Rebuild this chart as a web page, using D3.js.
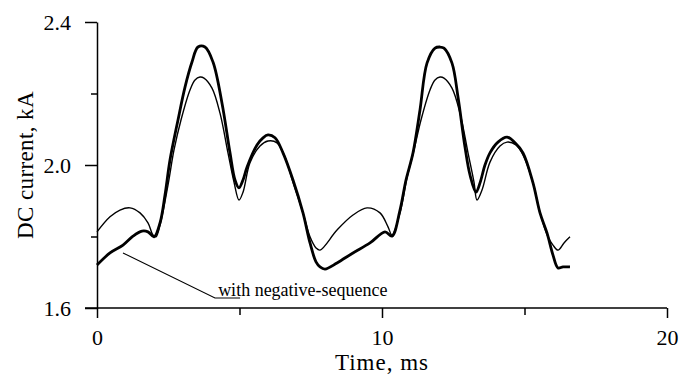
<!DOCTYPE html>
<html>
<head>
<meta charset="utf-8">
<script src="https://cdn.jsdelivr.net/npm/d3@7"></script>
<style>
  html, body { margin: 0; padding: 0; background: #fff; }
  svg { display: block; }
  svg text { font-family: "Liberation Serif", Tinos, "Times New Roman", Times, "DejaVu Serif", serif !important; fill: #000; }
</style>
</head>
<body>
<svg id="chart" width="679" height="374"></svg>
<script>
// ---- data ----
const xMajorTicks = [0, 10, 20];
const xMinorTicks = [5, 15];
const yMajorTicks = [1.6, 2.0, 2.4];
const yMinorTicks = [1.8, 2.2];
const xLabel = "Time, ms";
const yLabel = "DC current, kA";
const annotationText = "with negative-sequence";

// thick curve: with negative-sequence
const tWith = [0, 0.456, 0.912, 1.263, 1.579, 1.789, 2.0, 2.211, 2.386, 2.561, 2.842, 3.088, 3.333, 3.544, 3.789, 4.07, 4.386, 4.667, 4.842, 4.982, 5.123, 5.263, 5.614, 5.825, 6.0, 6.246, 6.526, 6.877, 7.228, 7.474, 7.684, 7.825, 8.0, 8.421, 8.982, 9.579, 10.105, 10.351, 10.632, 10.842, 11.088, 11.333, 11.579, 11.86, 12.035, 12.175, 12.456, 12.667, 12.912, 13.088, 13.298, 13.439, 13.614, 13.789, 14.07, 14.386, 14.667, 14.947, 15.298, 15.544, 15.789, 16.0, 16.175, 16.351, 16.596];
const iWith = [1.720, 1.754, 1.776, 1.801, 1.815, 1.813, 1.799, 1.838, 1.916, 2.014, 2.126, 2.218, 2.288, 2.330, 2.330, 2.288, 2.173, 2.034, 1.958, 1.936, 1.958, 1.994, 2.056, 2.076, 2.084, 2.076, 2.034, 1.958, 1.866, 1.782, 1.729, 1.715, 1.709, 1.726, 1.754, 1.782, 1.813, 1.801, 1.874, 1.958, 2.034, 2.154, 2.285, 2.327, 2.330, 2.327, 2.285, 2.190, 2.050, 1.972, 1.924, 1.950, 2.000, 2.034, 2.064, 2.078, 2.062, 2.034, 1.950, 1.866, 1.810, 1.748, 1.712, 1.715, 1.715];

// thin curve: without negative-sequence
const tWithout = [0, 0.456, 0.807, 1.158, 1.509, 1.789, 1.965, 2.07, 2.211, 2.491, 2.702, 2.947, 3.263, 3.439, 3.614, 3.754, 4.035, 4.316, 4.596, 4.807, 4.982, 5.123, 5.368, 5.719, 6.0, 6.316, 6.596, 6.877, 7.228, 7.474, 7.684, 7.825, 8.421, 8.982, 9.474, 9.93, 10.211, 10.351, 10.632, 10.877, 11.123, 11.368, 11.684, 11.86, 12.035, 12.175, 12.456, 12.737, 13.018, 13.228, 13.333, 13.509, 13.789, 14.14, 14.386, 14.702, 14.947, 15.298, 15.544, 15.825, 16.0, 16.175, 16.386, 16.596];
const iWithout = [1.813, 1.855, 1.874, 1.880, 1.866, 1.838, 1.804, 1.799, 1.832, 1.944, 2.042, 2.126, 2.210, 2.238, 2.246, 2.243, 2.215, 2.145, 2.034, 1.952, 1.902, 1.924, 2.006, 2.053, 2.067, 2.062, 2.022, 1.952, 1.866, 1.799, 1.768, 1.762, 1.818, 1.860, 1.880, 1.866, 1.827, 1.804, 1.866, 1.964, 2.042, 2.126, 2.210, 2.238, 2.246, 2.243, 2.215, 2.145, 2.034, 1.952, 1.902, 1.930, 2.008, 2.053, 2.064, 2.056, 2.028, 1.950, 1.866, 1.799, 1.776, 1.762, 1.782, 1.799];

// annotation leader (data coordinates)
const leaderT = [0.912, 4.14, 5.02];
const leaderI = [1.754, 1.628, 1.628];
const labelPos = [4.25, 1.634];

// ---- chart ----
const SERIF = '"Liberation Serif", Tinos, "Times New Roman", Times, "DejaVu Serif", serif';
const svg = d3.select("#chart");
const x = d3.scaleLinear().domain([0, 20]).range([97, 667]);
const y = d3.scaleLinear().domain([1.6, 2.4]).range([308, 22]);

const fmtY = d3.format(".1f");

function styleAxis(g) {
  g.attr("font-family", SERIF).attr("font-size", 22);
  g.selectAll("path.domain").attr("stroke", "#000").attr("stroke-width", 1.5);
  g.selectAll(".tick line").attr("stroke", "#000").attr("stroke-width", 1.5);
  g.selectAll("text").style("font-family", SERIF).style("font-size", "22px").attr("fill", "#000");
}

// x axis major
const gx = svg.append("g").attr("transform", `translate(0,${y(1.6)})`)
  .call(d3.axisBottom(x).tickValues(xMajorTicks).tickSize(10).tickSizeOuter(0).tickPadding(11).tickFormat(d3.format("d")));
styleAxis(gx);
gx.select("path.domain").remove();
// x minor ticks
const gx2 = svg.append("g").attr("transform", `translate(0,${y(1.6)})`)
  .call(d3.axisBottom(x).tickValues(xMinorTicks).tickSize(7).tickSizeOuter(0).tickFormat(""));
styleAxis(gx2);
gx2.select("path.domain").remove();
// x axis line (extends left to the y tick end)
svg.append("line").attr("x1", x(0) - 12).attr("x2", x(20))
  .attr("y1", y(1.6)).attr("y2", y(1.6)).attr("stroke", "#000").attr("stroke-width", 1.5);

// y axis major
const gy = svg.append("g").attr("transform", `translate(${x(0)},0)`)
  .call(d3.axisLeft(y).tickValues(yMajorTicks).tickSize(12).tickSizeOuter(0).tickPadding(14).tickFormat(fmtY));
styleAxis(gy);
const gy2 = svg.append("g").attr("transform", `translate(${x(0)},0)`)
  .call(d3.axisLeft(y).tickValues(yMinorTicks).tickSize(6).tickSizeOuter(0).tickFormat(""));
styleAxis(gy2);
gy2.select("path.domain").remove();

// axis titles
svg.append("text").attr("x", x(10)).attr("y", 370).attr("text-anchor", "middle")
  .style("font-family", SERIF).style("font-size", "23px").style("letter-spacing", "1px").text(xLabel);
svg.append("text").attr("transform", `translate(33,${y(2.0)}) rotate(-90)`)
  .attr("text-anchor", "middle").style("font-family", SERIF).style("font-size", "23px")
  .style("letter-spacing", "0.4px").text(yLabel);

// curves
const line = d3.line().x(d => x(d[0])).y(d => y(d[1])).curve(d3.curveCatmullRom.alpha(0.5));
const straight = d3.line().x(d => x(d[0])).y(d => y(d[1]));
const dataWithout = tWithout.map((t, i) => [t, iWithout[i]]);
const dataWith = tWith.map((t, i) => [t, iWith[i]]);

svg.append("path").datum(dataWithout).attr("d", line)
  .attr("fill", "none").attr("stroke", "#000").attr("stroke-width", 1.4)
  .attr("stroke-linejoin", "round");
svg.append("path").datum(dataWith).attr("d", line)
  .attr("fill", "none").attr("stroke", "#000").attr("stroke-width", 2.8)
  .attr("stroke-linejoin", "round");

// annotation
svg.append("path").datum(leaderT.map((t, i) => [t, leaderI[i]])).attr("d", straight)
  .attr("fill", "none").attr("stroke", "#000").attr("stroke-width", 1.1);
svg.append("text").attr("x", x(labelPos[0])).attr("y", y(labelPos[1]))
  .style("font-family", SERIF).style("font-size", "18px").text(annotationText);
</script>
</body>
</html>
